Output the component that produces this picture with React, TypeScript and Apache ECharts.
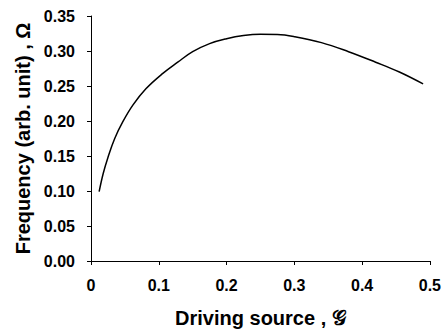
import React, { useEffect, useRef } from "react";
import * as echarts from "echarts";

const xValues = [0.012, 0.018, 0.025, 0.035, 0.047, 0.062, 0.081, 0.106, 0.128, 0.15, 0.175, 0.2, 0.225, 0.25, 0.275, 0.3, 0.34, 0.38, 0.42, 0.455, 0.49];
const yValues = [0.099, 0.125, 0.148, 0.175, 0.199, 0.223, 0.246, 0.268, 0.284, 0.299, 0.3105, 0.3175, 0.322, 0.3238, 0.3235, 0.3205, 0.312, 0.299, 0.284, 0.27, 0.253];

const xTitle = "Driving source , 𝒢";
const yTitle = "Frequency (arb. unit) , Ω";

export default function App() {
  const ref = useRef<HTMLDivElement>(null);
  useEffect(() => {
    if (!ref.current) return;
    const chart = echarts.init(ref.current, undefined, { renderer: "svg" });
    const font = "Liberation Sans, Arial, sans-serif";
    chart.setOption({
      animation: false,
      backgroundColor: "#ffffff",
      grid: { left: 91, right: 10, top: 16, bottom: 74 },
      xAxis: {
        type: "value",
        min: 0,
        max: 0.5,
        interval: 0.1,
        name: xTitle,
        nameLocation: "middle",
        nameGap: 47,
        nameTextStyle: { fontFamily: font, fontWeight: "bold", fontSize: 20, color: "#000" },
        axisLine: { show: true, lineStyle: { color: "#000", width: 1 } },
        axisTick: { show: true, length: 4, lineStyle: { color: "#000" } },
        axisLabel: {
          margin: 16,
          color: "#000",
          fontFamily: font,
          fontWeight: "bold",
          fontSize: 16,
          formatter: (v: number) => (v === 0 ? "0" : String(+v.toFixed(1))),
        },
        splitLine: { show: false },
      },
      yAxis: {
        type: "value",
        min: 0,
        max: 0.35,
        interval: 0.05,
        name: yTitle,
        nameLocation: "middle",
        nameGap: 58,
        nameTextStyle: { fontFamily: font, fontWeight: "bold", fontSize: 20, color: "#000" },
        axisLine: { show: true, lineStyle: { color: "#000", width: 1 } },
        axisTick: { show: true, length: 4, lineStyle: { color: "#000" } },
        axisLabel: {
          margin: 16,
          color: "#000",
          fontFamily: font,
          fontWeight: "bold",
          fontSize: 16,
          formatter: (v: number) => v.toFixed(2),
        },
        splitLine: { show: false },
      },
      series: [
        {
          type: "line",
          data: xValues.map((x, i) => [x, yValues[i]]),
          smooth: 0.4,
          showSymbol: false,
          lineStyle: { color: "#000", width: 1.5 },
        },
      ],
    });
    return () => chart.dispose();
  }, []);
  return <div ref={ref} style={{ width: 444, height: 335, position: "absolute", left: 0, top: 0 }} />;
}
